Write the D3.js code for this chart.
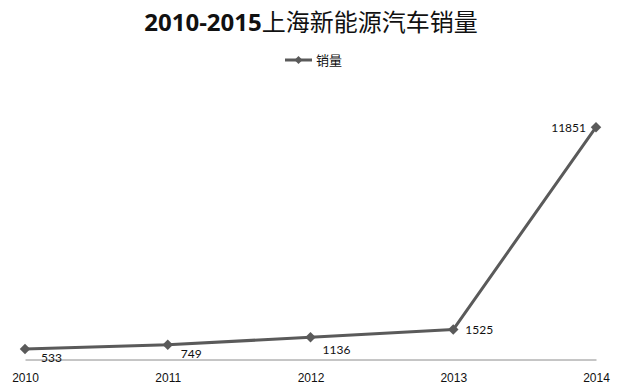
<!DOCTYPE html>
<html>
<head>
<meta charset="utf-8">
<script src="https://cdn.jsdelivr.net/npm/d3@7"></script>
<style>
  body { margin: 0; background: #fff; }
  svg { display: block; font-family: Lato, "Noto Sans CJK SC", sans-serif; }
</style>
</head>
<body>
<div id="chart"></div>
<script>
// data
var years = ["2010", "2011", "2012", "2013", "2014"];
var sales = [533, 749, 1136, 1525, 11851];
// label offsets from the point (layout only)
var labelDx = [16, 13, 12, 12, -10];
var labelDy = [9, 9, 13, 0, 1];
var labelAnchor = ["start", "start", "start", "start", "end"];

var svg = d3.select("#chart")
    .append("svg")
    .attr("width", 624)
    .attr("height", 392);

var lineColor = "#5a5a5a";

var x = d3.scalePoint()
    .domain(years)
    .range([25, 596]);

var y = d3.scaleLinear()
    .domain([0, 14000])
    .range([359.5, 85]);

// title: bold digits, lighter chinese
var title = svg.append("text")
    .attr("x", 311)
    .attr("y", 31)
    .attr("text-anchor", "middle")
    .style("font-family", "'Open Sans', 'Noto Sans CJK SC', sans-serif")
    .style("font-size", "24px")
    .style("fill", "#111");
title.append("tspan")
    .style("font-weight", "bold")
    .text("2010-2015");
title.append("tspan")
    .style("font-family", "'Noto Sans CJK SC', sans-serif")
    .style("font-weight", "normal")
    .text("上海新能源汽车销量");

// legend
var legend = svg.append("g").attr("transform", "translate(285,60)");
legend.append("line")
    .attr("x1", 0).attr("x2", 27)
    .attr("stroke", lineColor)
    .attr("stroke-width", 3);
legend.append("path")
    .attr("transform", "translate(13.5,0)")
    .attr("d", d3.symbol().type(d3.symbolDiamond2).size(40))
    .attr("fill", lineColor);
legend.append("text")
    .attr("x", 31)
    .attr("dy", "0.35em")
    .style("font-family", "'Noto Sans CJK SC', sans-serif")
    .style("font-size", "13px")
    .style("fill", "#111")
    .text("销量");

// x axis
var xAxis = svg.append("g")
    .attr("transform", "translate(0," + y(0) + ")")
    .call(d3.axisBottom(x).tickSize(0).tickPadding(14));
xAxis.select(".domain")
    .attr("stroke", "#8c8c8c")
    .attr("stroke-width", 1);
xAxis.selectAll("text")
    .style("font-size", "12px")
    .style("fill", "#111");

// the line
var data = years.map(function (d, i) { return { year: d, value: sales[i], i: i }; });

svg.append("path")
    .datum(data)
    .attr("fill", "none")
    .attr("stroke", lineColor)
    .attr("stroke-width", 3)
    .attr("stroke-linejoin", "round")
    .attr("d", d3.line()
        .x(function (d) { return x(d.year); })
        .y(function (d) { return y(d.value); })
    );

// markers
svg.selectAll(".marker")
    .data(data)
    .enter()
    .append("path")
    .attr("class", "marker")
    .attr("transform", function (d) { return "translate(" + x(d.year) + "," + y(d.value) + ")"; })
    .attr("d", d3.symbol().type(d3.symbolDiamond2).size(70))
    .attr("fill", lineColor);

// value labels
svg.selectAll(".label")
    .data(data)
    .enter()
    .append("text")
    .attr("class", "label")
    .attr("x", function (d) { return x(d.year) + labelDx[d.i]; })
    .attr("y", function (d) { return y(d.value) + labelDy[d.i]; })
    .attr("dy", "0.35em")
    .attr("text-anchor", function (d) { return labelAnchor[d.i]; })
    .style("font-size", "12px")
    .style("fill", "#111")
    .text(function (d) { return d.value; });
</script>
</body>
</html>
